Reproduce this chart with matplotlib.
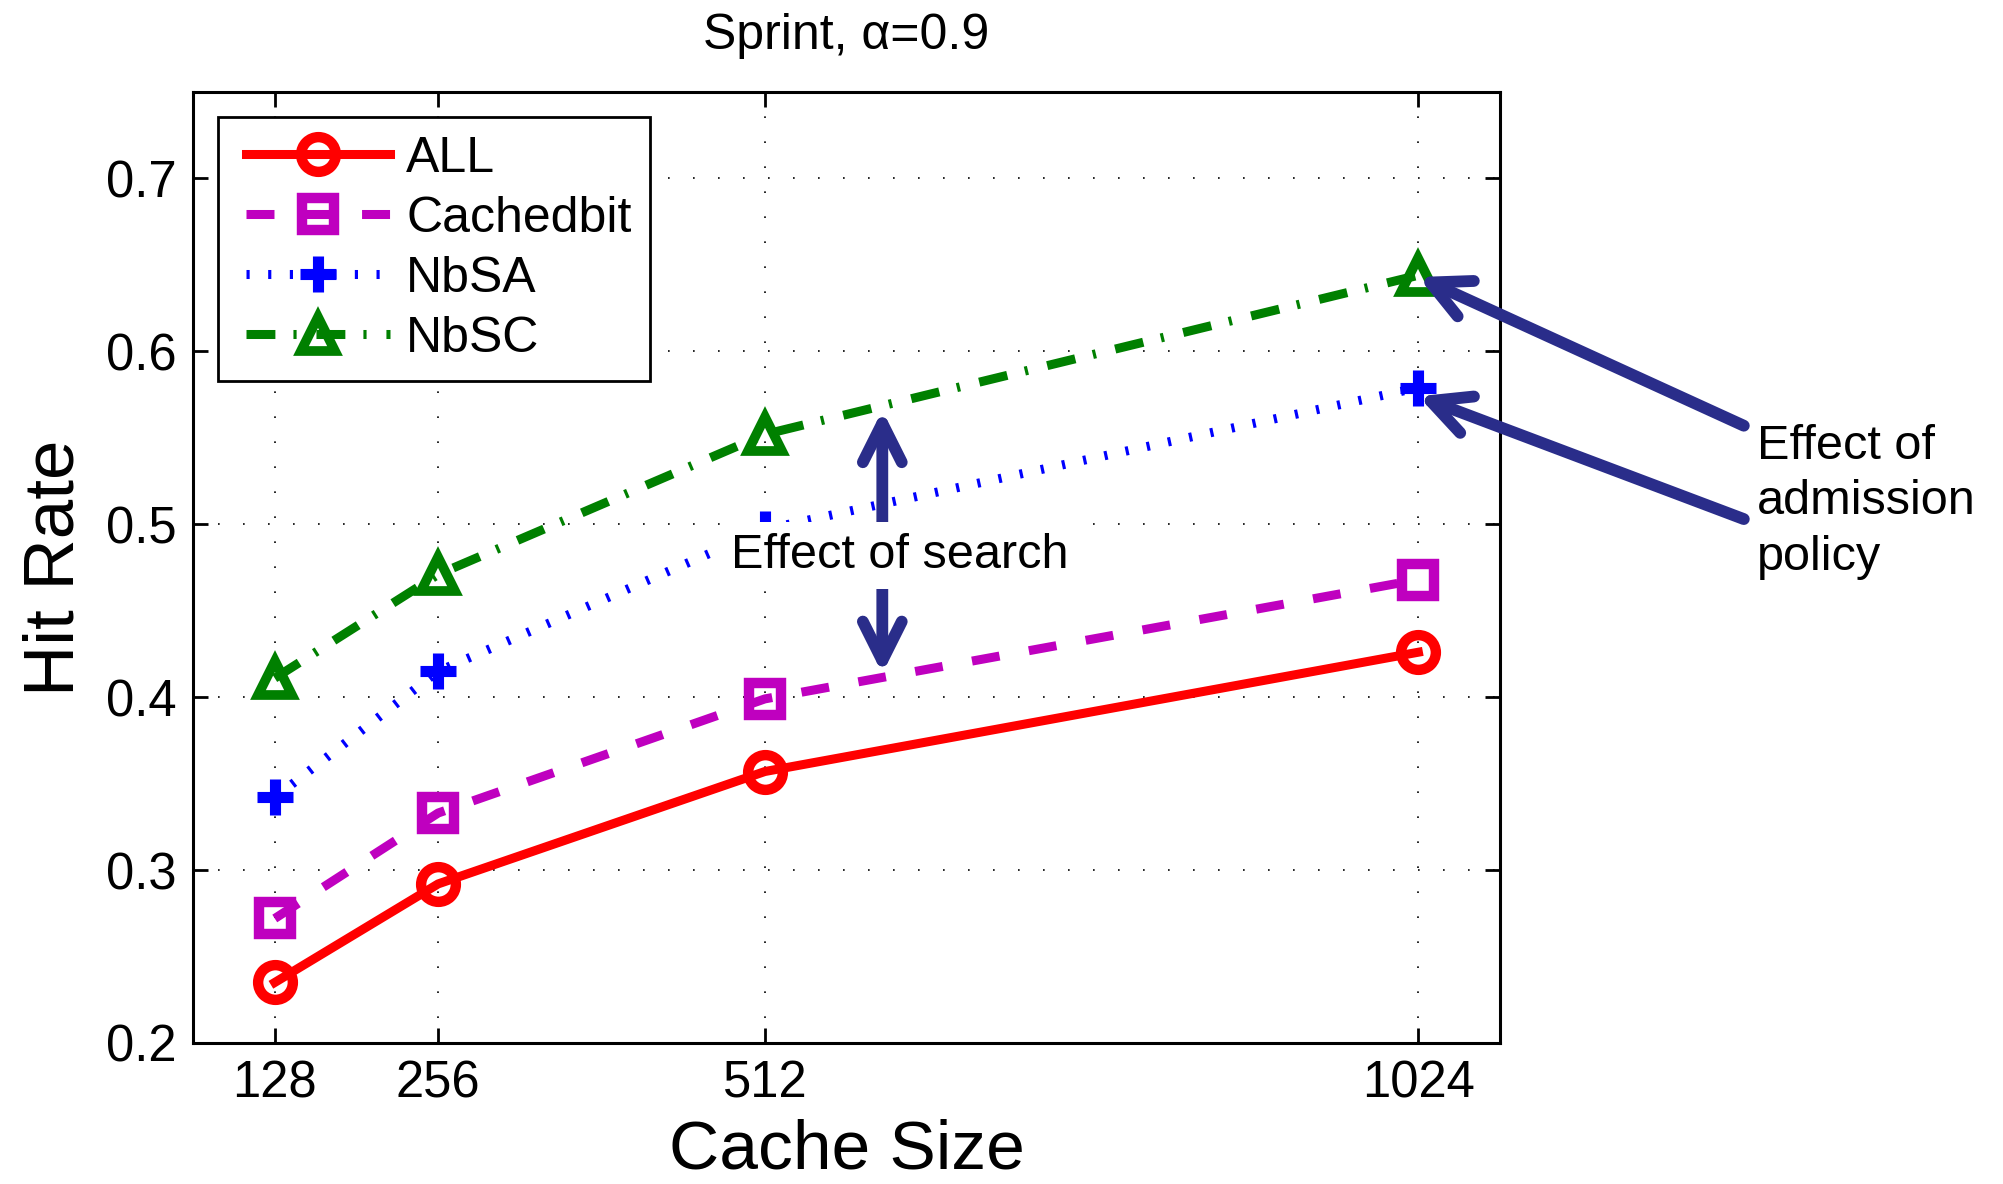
import matplotlib
matplotlib.use("Agg")
import matplotlib.pyplot as plt
from matplotlib.lines import Line2D
from matplotlib.legend_handler import HandlerLine2D
from matplotlib.patches import FancyArrowPatch

plt.rcParams['font.family'] = ['Liberation Sans', 'DejaVu Sans']

# Cache size vs hit rate, Sprint trace, alpha = 0.9
cache_sizes = [128, 256, 512, 1024]
hit_all = [0.235, 0.292, 0.357, 0.426]
hit_cachedbit = [0.272, 0.333, 0.399, 0.468]
hit_nbsa = [0.342, 0.415, 0.497, 0.579]
hit_nbsc = [0.411, 0.471, 0.552, 0.644]
y_ticks = [0.2, 0.3, 0.4, 0.5, 0.6, 0.7]

arrow_col = '#2A2D8A'
lw = 6.5

fig = plt.figure(figsize=(20.03, 11.84), dpi=100)
ax = fig.add_axes([0.0964, 0.1191, 0.6525, 0.8032])

ax.plot(cache_sizes, hit_all, color='#FF0000', lw=lw, ls='-',
        marker='o', ms=25, mew=7.5, mfc='none', label='ALL')
ax.plot(cache_sizes, hit_cachedbit, color='#BF00BF', lw=lw, ls=(0, (3.1, 3.3)),
        marker='s', ms=23, mew=7.5, mfc='none', label='Cachedbit')
ax.plot(cache_sizes, hit_nbsa, color='#0000FF', lw=lw, ls=(0, (0.35, 2.05)),
        marker='+', ms=26, mew=8, label='NbSA')
ax.plot(cache_sizes, hit_nbsc, color='#008000', lw=lw, ls=(0, (3.2, 2.0, 0.35, 2.2)),
        marker='^', ms=25, mew=7, mfc='none', label='NbSC')

ax.set_xlim(64, 1088)
ax.set_ylim(0.2, 0.75)
ax.set_xticks(cache_sizes)
ax.set_yticks(y_ticks)
ax.set_xticklabels([str(c) for c in cache_sizes])
ax.set_yticklabels(['%.1f' % v for v in y_ticks])
ax.tick_params(direction='in', length=11, width=2, labelsize=36.5, pad=12,
               top=True, right=True)
for sp in ax.spines.values():
    sp.set_linewidth(2.2)
ax.grid(True, color='black', lw=1.2, ls=(0, (1.0, 14.0)))

ax.set_title('Sprint, \u03b1=0.9', fontsize=36, pad=31)
ax.set_xlabel('Cache Size', fontsize=50)
ax.set_ylabel('Hit Rate', fontsize=51)
ax.xaxis.set_label_coords(0.5, -0.079)
ax.yaxis.set_label_coords(-0.08, 0.5)

leg = ax.legend(loc='upper left', fontsize=36, handlelength=3.05, handletextpad=0.33,
                labelspacing=0.28, borderpad=0.38, borderaxespad=0.5,
                fancybox=False, framealpha=1,
                handler_map={Line2D: HandlerLine2D(xpad=0.18)})
leg.get_frame().set_edgecolor('black')
leg.get_frame().set_linewidth(2)

# double arrow: effect of search
arr = FancyArrowPatch((604, 0.4136), (604, 0.566), arrowstyle='<->,head_length=28,head_width=14',
                      mutation_scale=1, lw=8.5, color=arrow_col, shrinkA=0, shrinkB=0,
                      capstyle='round', joinstyle='round', zorder=5)
ax.add_patch(arr)
ax.text(618, 0.482, 'Effect of search', fontsize=35, ha='center', va='center', zorder=6,
        bbox=dict(facecolor='white', edgecolor='none', pad=8))

# arrows: effect of admission policy
for tip, tail in [((1024, 0.643), (1279, 0.557)), ((1024, 0.574), (1279, 0.503))]:
    ax.annotate('', xy=tip, xytext=tail, annotation_clip=False,
                arrowprops=dict(arrowstyle='->,head_length=28,head_width=14', mutation_scale=1,
                                lw=8.5, color=arrow_col, shrinkA=0, shrinkB=0,
                                capstyle='round', joinstyle='round'))
ax.text(1289, 0.558, 'Effect of\nadmission\npolicy', fontsize=35, ha='left', va='top',
        linespacing=1.3, clip_on=False)

fig.savefig('out.png', dpi=100)
